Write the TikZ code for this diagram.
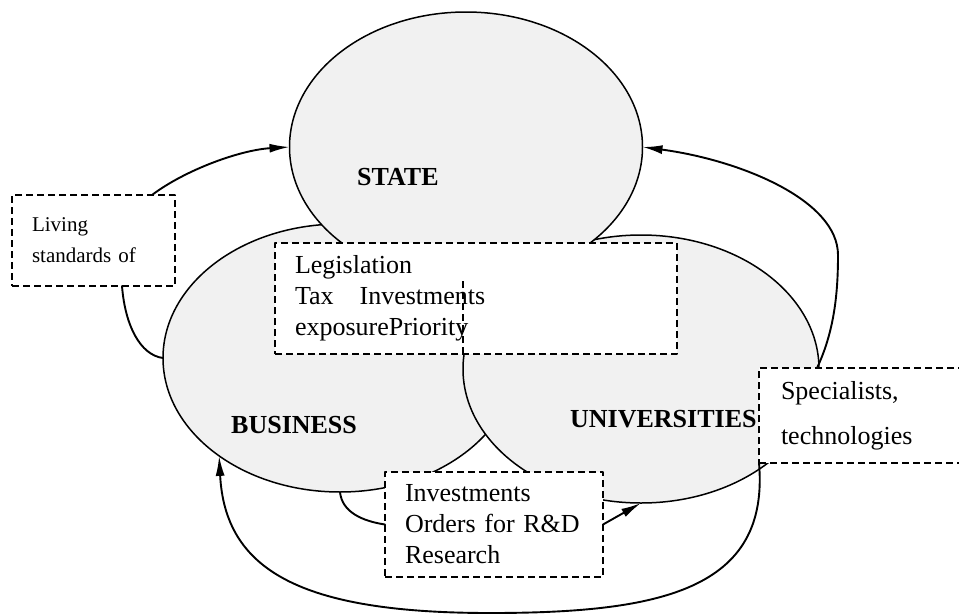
\documentclass[tikz,border=0pt]{standalone}
\usepackage{fontspec}
\setmainfont{Liberation Serif}
\usetikzlibrary{arrows.meta, calc, positioning, shapes.geometric}
\definecolor{ovalgray}{RGB}{241,241,241}

\begin{document}
\begin{tikzpicture}[x=1pt, y=-1pt, line cap=round, line join=round, >={Latex[length=20pt,width=9pt]},
	oval/.style={ellipse, draw, line width=1.5pt, fill=ovalgray, outer sep=0pt, inner sep=0pt},
	txtbox/.style={rectangle, draw, fill=white, line width=1.4pt, dash pattern=on 7pt off 4pt, line cap=butt,
		inner xsep=20pt, inner ysep=0pt, outer sep=0pt, align=left, anchor=north west,
		font=\fontsize{26}{31}\selectfont},
	sector/.style={font=\fontsize{26}{31}\selectfont\bfseries, anchor=base west, inner sep=0pt},
	flow/.style={line width=1.9pt}]
	\clip (0,0) rectangle (959,614);
	
	% the three spheres
	\node[oval, minimum width=354pt, minimum height=268pt] (business) at (340,358) {};
	\node[oval, minimum width=356pt, minimum height=268pt] (univ) at (641,369) {};
	\node[oval, minimum width=353pt, minimum height=270pt] (state) at (466,147) {};
	\node[sector] (statelab) at (357,185) {STATE};
	\node[sector] (buslab) at (231,433) {BUSINESS};
	\node[sector] (univlab) at (570,427) {UNIVERSITIES};
	
	% flows between them
	\node[txtbox, text width=123pt, minimum height=91pt, font=\fontsize{21}{31}\selectfont] (living) at (12,195) {Living\\standards of};
	\node[txtbox, text width=362pt, minimum height=111pt] (legis) at (275,243) {Legislation\\Tax\quad Investments\\exposurePriority};
	\draw[line width=1.4pt, dash pattern=on 7pt off 4pt, line cap=butt] (univ.west |- legis.south) -- ++(0,-74);
	\node[txtbox, text width=171pt, inner xsep=22pt, minimum height=95pt, font=\fontsize{26}{45}\selectfont] (spec) at (759,368) {Specialists,\\technologies};
	\node[txtbox, text width=178pt, minimum height=105pt] (inv) at (385,472) {Investments\\Orders for R\&D\\Research};
	
	% arrows
	\draw[flow,->] ([xshift=-23pt]living.north east) .. controls (185,170) and (240,150) .. (state.west);
	\draw[flow] ([xshift=-53pt]living.south east) .. controls (125,325) and (140,355) .. (business.west);
	\draw[flow,->] ([xshift=58pt]spec.north west) .. controls (835,330) and (838,290) .. (838,255)
		.. controls (838,200) and (740,160) .. (state.east);
	\draw[flow,->] (spec.south west) .. controls (770,590) and (660,613) .. (490,613)
		.. controls (300,613) and (225,570) .. (business.219);
	\draw[flow] (business.south) .. controls (342,512) and (362,521) .. (inv.west);
	\draw[flow,->] (inv.east) -- (univ.south);
\end{tikzpicture}
\end{document}
